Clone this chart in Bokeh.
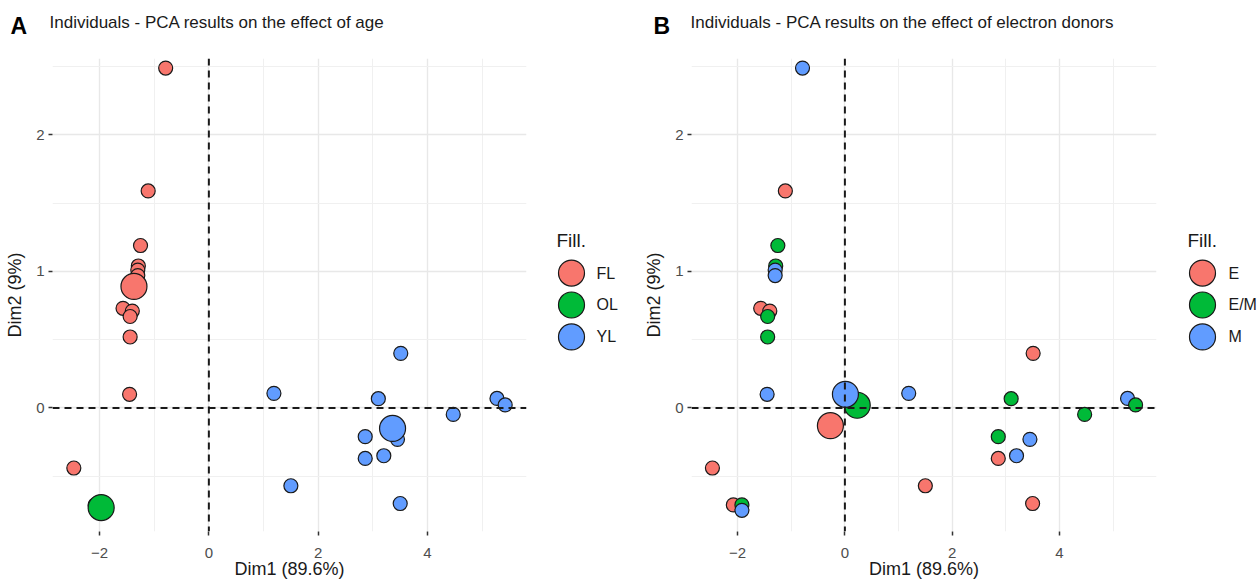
from bokeh.plotting import figure
from bokeh.layouts import row, column
from bokeh.models import ColumnDataSource, Span, FixedTicker
from bokeh.core.properties import value
from bokeh.embed import file_html
from bokeh.resources import INLINE

# ---- data ----
dim1 = [-0.79, -1.11, -1.25, -1.29, -1.30, -1.30, -1.57, -1.40, -1.44, -1.44, -1.45, -2.47,
        -2.08, -1.92, -1.92,
        1.19, 1.50, 3.10, 3.51, 2.86, 2.86, 3.20, 3.45, 3.50, 4.47, 5.27, 5.42]
dim2 = [2.49, 1.59, 1.19, 1.04, 1.01, 0.97, 0.73, 0.71, 0.67, 0.52, 0.10, -0.44,
        -0.71, -0.71, -0.75,
        0.107, -0.57, 0.068, 0.40, -0.21, -0.37, -0.35, -0.23, -0.70, -0.047, 0.07, 0.022]
age = ["FL"] * 12 + ["OL"] * 3 + ["YL"] * 12
donor = ["M", "E", "E/M", "E/M", "M", "M", "E", "E", "E/M", "E/M", "M", "E",
         "E", "E/M", "M",
         "M", "E", "E/M", "E", "E/M", "E", "M", "M", "E", "E/M", "M", "E/M"]

age_levels = ["FL", "OL", "YL"]
age_mean_x = [-1.37, -1.97, 3.36]
age_mean_y = [0.89, -0.73, -0.15]

donor_levels = ["E", "E/M", "M"]
donor_mean_x = [-0.27, 0.23, 0.01]
donor_mean_y = [-0.13, 0.02, 0.10]

panel_letters = ["A", "B"]
panel_titles = ["Individuals - PCA results on the effect of age",
                "Individuals - PCA results on the effect of electron donors"]
legend_title = "Fill."

x_ticks = [-2, 0, 2, 4]
x_minor = [-1, 1, 3, 5]
y_ticks = [0, 1, 2]
y_minor = [-0.5, 0.5, 1.5, 2.5]

palette = ["#F8766D", "#00BA38", "#619CFF"]
FONT = "Liberation Sans"
TXT = "#1A1A1A"
XR = (-2.86, 5.81)
YR = (-0.905, 2.56)
HEADER_H = 58
BODY_H = 581 - HEADER_H


def blank(width, height, xr, yr, bottom=0):
    f = figure(width=width, height=height, x_range=xr, y_range=yr,
               output_backend="svg", toolbar_location=None,
               x_axis_location=None, y_axis_location=None,
               min_border=0, min_border_left=0, min_border_right=0,
               min_border_top=0, min_border_bottom=bottom)
    f.grid.visible = False
    f.outline_line_color = None
    f.background_fill_color = "white"
    f.border_fill_color = "white"
    return f


def make_panel(groups, levels, mx, my, width, left, right):
    cmap = dict(zip(levels, palette))
    p = figure(width=width, height=BODY_H, x_range=XR, y_range=YR,
               output_backend="svg", toolbar_location=None,
               min_border_left=left, min_border_right=right,
               min_border_top=0, min_border_bottom=49)
    p.outline_line_color = None
    p.background_fill_color = "white"
    p.border_fill_color = "white"

    p.xaxis.ticker = FixedTicker(ticks=x_ticks, minor_ticks=x_minor)
    p.yaxis.ticker = FixedTicker(ticks=y_ticks, minor_ticks=y_minor)
    p.xaxis.major_label_overrides = {t: str(t).replace("-", "\u2212") for t in x_ticks}
    p.yaxis.major_label_overrides = {t: str(t) for t in y_ticks}
    for ax in (p.xaxis, p.yaxis):
        ax.axis_line_color = None
        ax.minor_tick_line_color = None
        ax.major_tick_line_color = "#333333"
        ax.major_tick_line_width = 1.5
        ax.major_tick_in = 0
        ax.major_tick_out = 4
        ax.major_label_text_font = FONT
        ax.major_label_text_font_size = "15px"
        ax.major_label_text_color = "#4D4D4D"
        ax.axis_label_text_font = FONT
        ax.axis_label_text_font_size = "18px"
        ax.axis_label_text_font_style = "normal"
        ax.axis_label_text_color = TXT
    p.xaxis.axis_label = "Dim1 (89.6%)"
    p.yaxis.axis_label = "Dim2 (9%)"
    p.xaxis.major_label_standoff = 12
    p.yaxis.major_label_standoff = 4
    p.xaxis.axis_label_standoff = -2
    p.yaxis.axis_label_standoff = 8

    for g in (p.xgrid, p.ygrid):
        g.grid_line_color = "#E8E8E8"
        g.grid_line_width = 1.4
        g.minor_grid_line_color = "#F0F0F0"
        g.minor_grid_line_width = 1.0

    p.add_layout(Span(location=0, dimension="height", line_color=TXT,
                      line_width=2, line_dash="7 5"))
    p.add_layout(Span(location=0, dimension="width", line_color=TXT,
                      line_width=2, line_dash="7 5"))

    src = ColumnDataSource(dict(x=dim1, y=dim2, c=[cmap[v] for v in groups]))
    p.scatter("x", "y", source=src, size=14, fill_color="c", line_color=TXT,
              line_width=1.2, marker="circle")
    msrc = ColumnDataSource(dict(x=mx, y=my, c=palette))
    p.scatter("x", "y", source=msrc, size=26, fill_color="c", line_color=TXT,
              line_width=1.2, marker="circle")
    return p


def make_legend(levels, width, cx, lx, tx):
    # same vertical frame and y scale as the panels
    f = blank(width, BODY_H, (0, width), YR, bottom=49)
    step = 32 / 474 * (YR[1] - YR[0])
    y0 = YR[1] - (273 - HEADER_H) / 474 * (YR[1] - YR[0])
    ys = [y0 - step * i for i in range(len(levels))]
    yt = YR[1] - (240 - HEADER_H) / 474 * (YR[1] - YR[0])
    f.scatter(x=[cx] * len(levels), y=ys, size=26, fill_color=palette[:len(levels)],
              line_color=TXT, line_width=1.2, marker="circle")
    f.text(x=[lx] * len(levels), y=ys, text=levels, text_font=value(FONT),
           text_font_size=value("16px"), text_baseline="middle", text_align="left",
           text_color=TXT)
    f.text(x=[tx], y=[yt], text=[legend_title], text_font=value(FONT),
           text_font_size=value("19px"), text_baseline="middle", text_align="left",
           text_color=TXT)
    return f


# header with panel letters and titles
header = blank(1258, HEADER_H, (0, 1258), (HEADER_H, 0))
header.text(x=[10, 653], y=[25, 25], text=panel_letters, text_font=value(FONT),
            text_font_size=value("23px"), text_font_style="bold",
            text_baseline="middle", text_align="left", text_color="black")
header.text(x=[49, 690], y=[22, 22], text=panel_titles, text_font=value(FONT),
            text_font_size=value("17px"), text_baseline="middle", text_align="left",
            text_color=TXT)

pa = make_panel(age, age_levels, age_mean_x, age_mean_y, 530, 52, 4)
la = make_legend(age_levels, 105, 41, 66, 26)
pb = make_panel(donor, donor_levels, donor_mean_x, donor_mean_y, 525, 56, 4)
lb = make_legend(donor_levels, 98, 42, 68, 27)

layout = column(header, row(pa, la, pb, lb))
open("out.html", "w").write(file_html(layout, INLINE))
